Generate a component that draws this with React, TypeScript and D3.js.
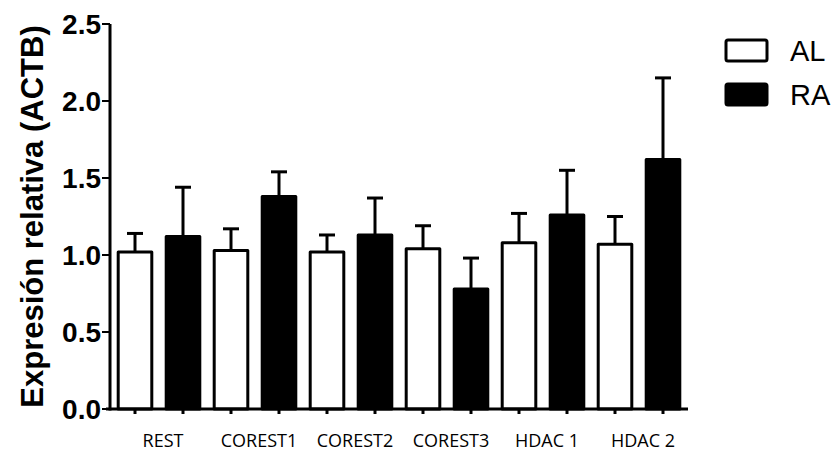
import React from 'react';
import * as d3 from 'd3';

const genes = ['REST', 'COREST1', 'COREST2', 'COREST3', 'HDAC 1', 'HDAC 2'];
const seriesNames = ['AL', 'RA'];
const alMeans = [1.02, 1.03, 1.02, 1.04, 1.08, 1.07];
const alErr = [0.12, 0.14, 0.11, 0.15, 0.19, 0.18];
const raMeans = [1.12, 1.38, 1.13, 0.78, 1.26, 1.62];
const raErr = [0.32, 0.16, 0.24, 0.2, 0.29, 0.53];
const yTicks = [0, 0.5, 1.0, 1.5, 2.0, 2.5];

const width = 836;
const height = 451;
const x0 = 111;
const x1 = 687;
const yTop = 24;
const yBottom = 409;

const App = () => {
  const xGroup = d3.scaleBand().domain(genes).range([x0, x1]).padding(0);
  const xInner = d3
    .scaleBand()
    .domain(seriesNames)
    .range([0, xGroup.bandwidth()])
    .paddingInner(0.3)
    .paddingOuter(0.15);
  const y = d3.scaleLinear().domain([0, 2.5]).range([yBottom, yTop]);

  const bars = genes.flatMap((g, i) => [
    { gene: g, series: 'AL', value: alMeans[i], err: alErr[i] },
    { gene: g, series: 'RA', value: raMeans[i], err: raErr[i] },
  ]);

  const bw = xInner.bandwidth();
  const capW = 16;

  return (
    <svg width={width} height={height} style={{ position: 'absolute', left: 0, top: 0 }}>
      <rect width={width} height={height} fill="#fff" />
      {/* bars + error bars */}
      {bars.map((d) => {
        const bx = (xGroup(d.gene) ?? 0) + (xInner(d.series) ?? 0);
        const cx = bx + bw / 2;
        const top = y(d.value);
        const eTop = y(d.value + d.err);
        return (
          <g key={d.gene + d.series}>
            <line x1={cx} x2={cx} y1={top} y2={eTop} stroke="#000" strokeWidth={3} />
            <line x1={cx - capW / 2} x2={cx + capW / 2} y1={eTop} y2={eTop} stroke="#000" strokeWidth={3} />
            <rect
              x={bx}
              y={top}
              width={bw}
              height={yBottom - top}
              fill={d.series === 'AL' ? '#fff' : '#000'}
              stroke="#000"
              strokeWidth={3}
              strokeLinejoin="round"
            />
            <line x1={cx} x2={cx} y1={yBottom} y2={yBottom + 5} stroke="#000" strokeWidth={3} />
          </g>
        );
      })}
      {/* axes */}
      <line x1={x0 - 5} x2={x1 + 1} y1={yBottom} y2={yBottom} stroke="#000" strokeWidth={3} />
      <line x1={x0 - 1} x2={x0 - 1} y1={yTop} y2={yBottom + 1.5} stroke="#000" strokeWidth={3} />
      {yTicks.map((t) => (
        <g key={t}>
          <line x1={x0 - 9} x2={x0 - 1} y1={y(t)} y2={y(t)} stroke="#000" strokeWidth={2} />
          <text
            x={x0 - 10}
            y={y(t)}
            dy="0.36em"
            textAnchor="end"
            fontFamily="Liberation Sans, Arial, sans-serif"
            fontWeight="bold"
            fontSize={28}
          >
            {t.toFixed(1)}
          </text>
        </g>
      ))}
      {genes.map((g) => (
        <text
          key={g}
          x={(xGroup(g) ?? 0) + xGroup.bandwidth() / 2 + 4}
          y={447}
          textAnchor="middle"
          fontFamily="Open Sans, sans-serif"
          fontSize={18}
        >
          {g}
        </text>
      ))}
      <text
        transform={`translate(43, ${(yTop + yBottom) / 2}) rotate(-90)`}
        textAnchor="middle"
        fontFamily="Liberation Sans, Arial, sans-serif"
        fontWeight="bold"
        fontSize={31}
      >
        Expresión relativa (ACTB)
      </text>
      {/* legend */}
      {seriesNames.map((s, i) => (
        <g key={s} transform={`translate(726, ${40 + i * 44})`}>
          <rect
            width={41}
            height={21}
            rx={2}
            fill={s === 'AL' ? '#fff' : '#000'}
            stroke="#000"
            strokeWidth={3}
          />
          <text x={64} y={21} fontFamily="Liberation Sans, Arial, sans-serif" fontSize={29}>
            {s}
          </text>
        </g>
      ))}
    </svg>
  );
};

export default App;
